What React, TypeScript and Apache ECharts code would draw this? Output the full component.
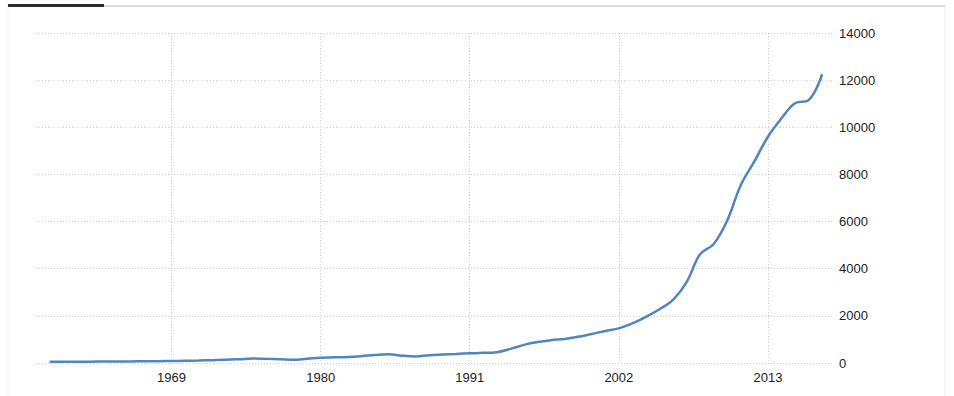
import React, { useEffect, useRef } from "react";
import * as echarts from "echarts";

const years: number[] = [
  1960, 1961, 1962, 1963, 1964, 1965, 1966, 1967, 1968, 1969,
  1970, 1971, 1972, 1973, 1974, 1975, 1976, 1977, 1978, 1979,
  1980, 1981, 1982, 1983, 1984, 1985, 1986, 1987, 1988, 1989,
  1990, 1991, 1992, 1993, 1994, 1995, 1996, 1997, 1998, 1999,
  2000, 2001, 2002, 2003, 2004, 2005, 2006, 2007, 2008, 2009,
  2010, 2011, 2012, 2013, 2014, 2015, 2016, 2017,
];

const values: number[] = [
  50, 52, 55, 58, 60, 63, 67, 72, 78, 85,
  95, 105, 120, 135, 160, 190, 175, 160, 140, 180,
  225, 240, 255, 290, 340, 370, 310, 280, 330, 360,
  385, 410, 430, 460, 600, 770, 890, 970, 1020, 1110,
  1230, 1360, 1470, 1680, 1960, 2280, 2680, 3430, 4620, 5050,
  6050, 7550, 8550, 9600, 10380, 11020, 11150, 12250,
];

const xTickYears: number[] = [1969, 1980, 1991, 2002, 2013];

const FONT = "Arial, 'Liberation Sans', sans-serif";

export default function App() {
  const ref = useRef<HTMLDivElement>(null);

  useEffect(() => {
    if (!ref.current) return;
    const chart = echarts.init(ref.current, null, { renderer: "svg" });
    const data = years.map((y, i) => [y, values[i]]);
    chart.setOption({
      animation: false,
      backgroundColor: "#ffffff",
      grid: { left: 36, right: 121, top: 33, bottom: 33, containLabel: false },
      graphic: [
        {
          type: "rect",
          shape: { x: 8, y: 6, width: 937, height: 400 },
          style: { fill: "none", stroke: "#ececec", lineWidth: 1 },
          silent: true,
        },
        {
          type: "rect",
          shape: { x: 8, y: 5, width: 937, height: 2 },
          style: { fill: "#dcdcdc" },
          silent: true,
        },
        {
          type: "rect",
          shape: { x: 8, y: 4, width: 96, height: 3 },
          style: { fill: "#2d2d2d" },
          silent: true,
        },
      ],
      xAxis: {
        type: "value",
        min: 1959,
        max: 2017.8,
        axisLine: { show: false },
        axisTick: { show: false, customValues: xTickYears },
        axisLabel: {
          customValues: xTickYears,
          color: "#222222",
          fontSize: 13,
          fontFamily: FONT,
          margin: 8,
          formatter: (v: number) => String(Math.round(v)),
        },
        splitLine: {
          show: true,
          lineStyle: { color: "#d0d0d0", type: [1, 2], width: 1 },
        },
      },
      yAxis: {
        type: "value",
        position: "right",
        min: 0,
        max: 14000,
        interval: 2000,
        axisLine: { show: false },
        axisTick: { show: false },
        axisLabel: {
          color: "#222222",
          fontSize: 13,
          fontFamily: FONT,
          margin: 6,
          align: "left",
          formatter: (v: number) => String(Math.round(v)),
        },
        splitLine: {
          show: true,
          lineStyle: { color: "#d0d0d0", type: [1, 2], width: 1 },
        },
      },
      series: [
        {
          type: "line",
          data,
          smooth: 0.4,
          showSymbol: false,
          lineStyle: { color: "#5086bb", width: 2.5 },
          itemStyle: { color: "#5086bb" },
        },
      ],
    });
    return () => chart.dispose();
  }, []);

  return (
    <div
      ref={ref}
      style={{ position: "fixed", left: 0, top: 0, width: 954, height: 396 }}
    />
  );
}
